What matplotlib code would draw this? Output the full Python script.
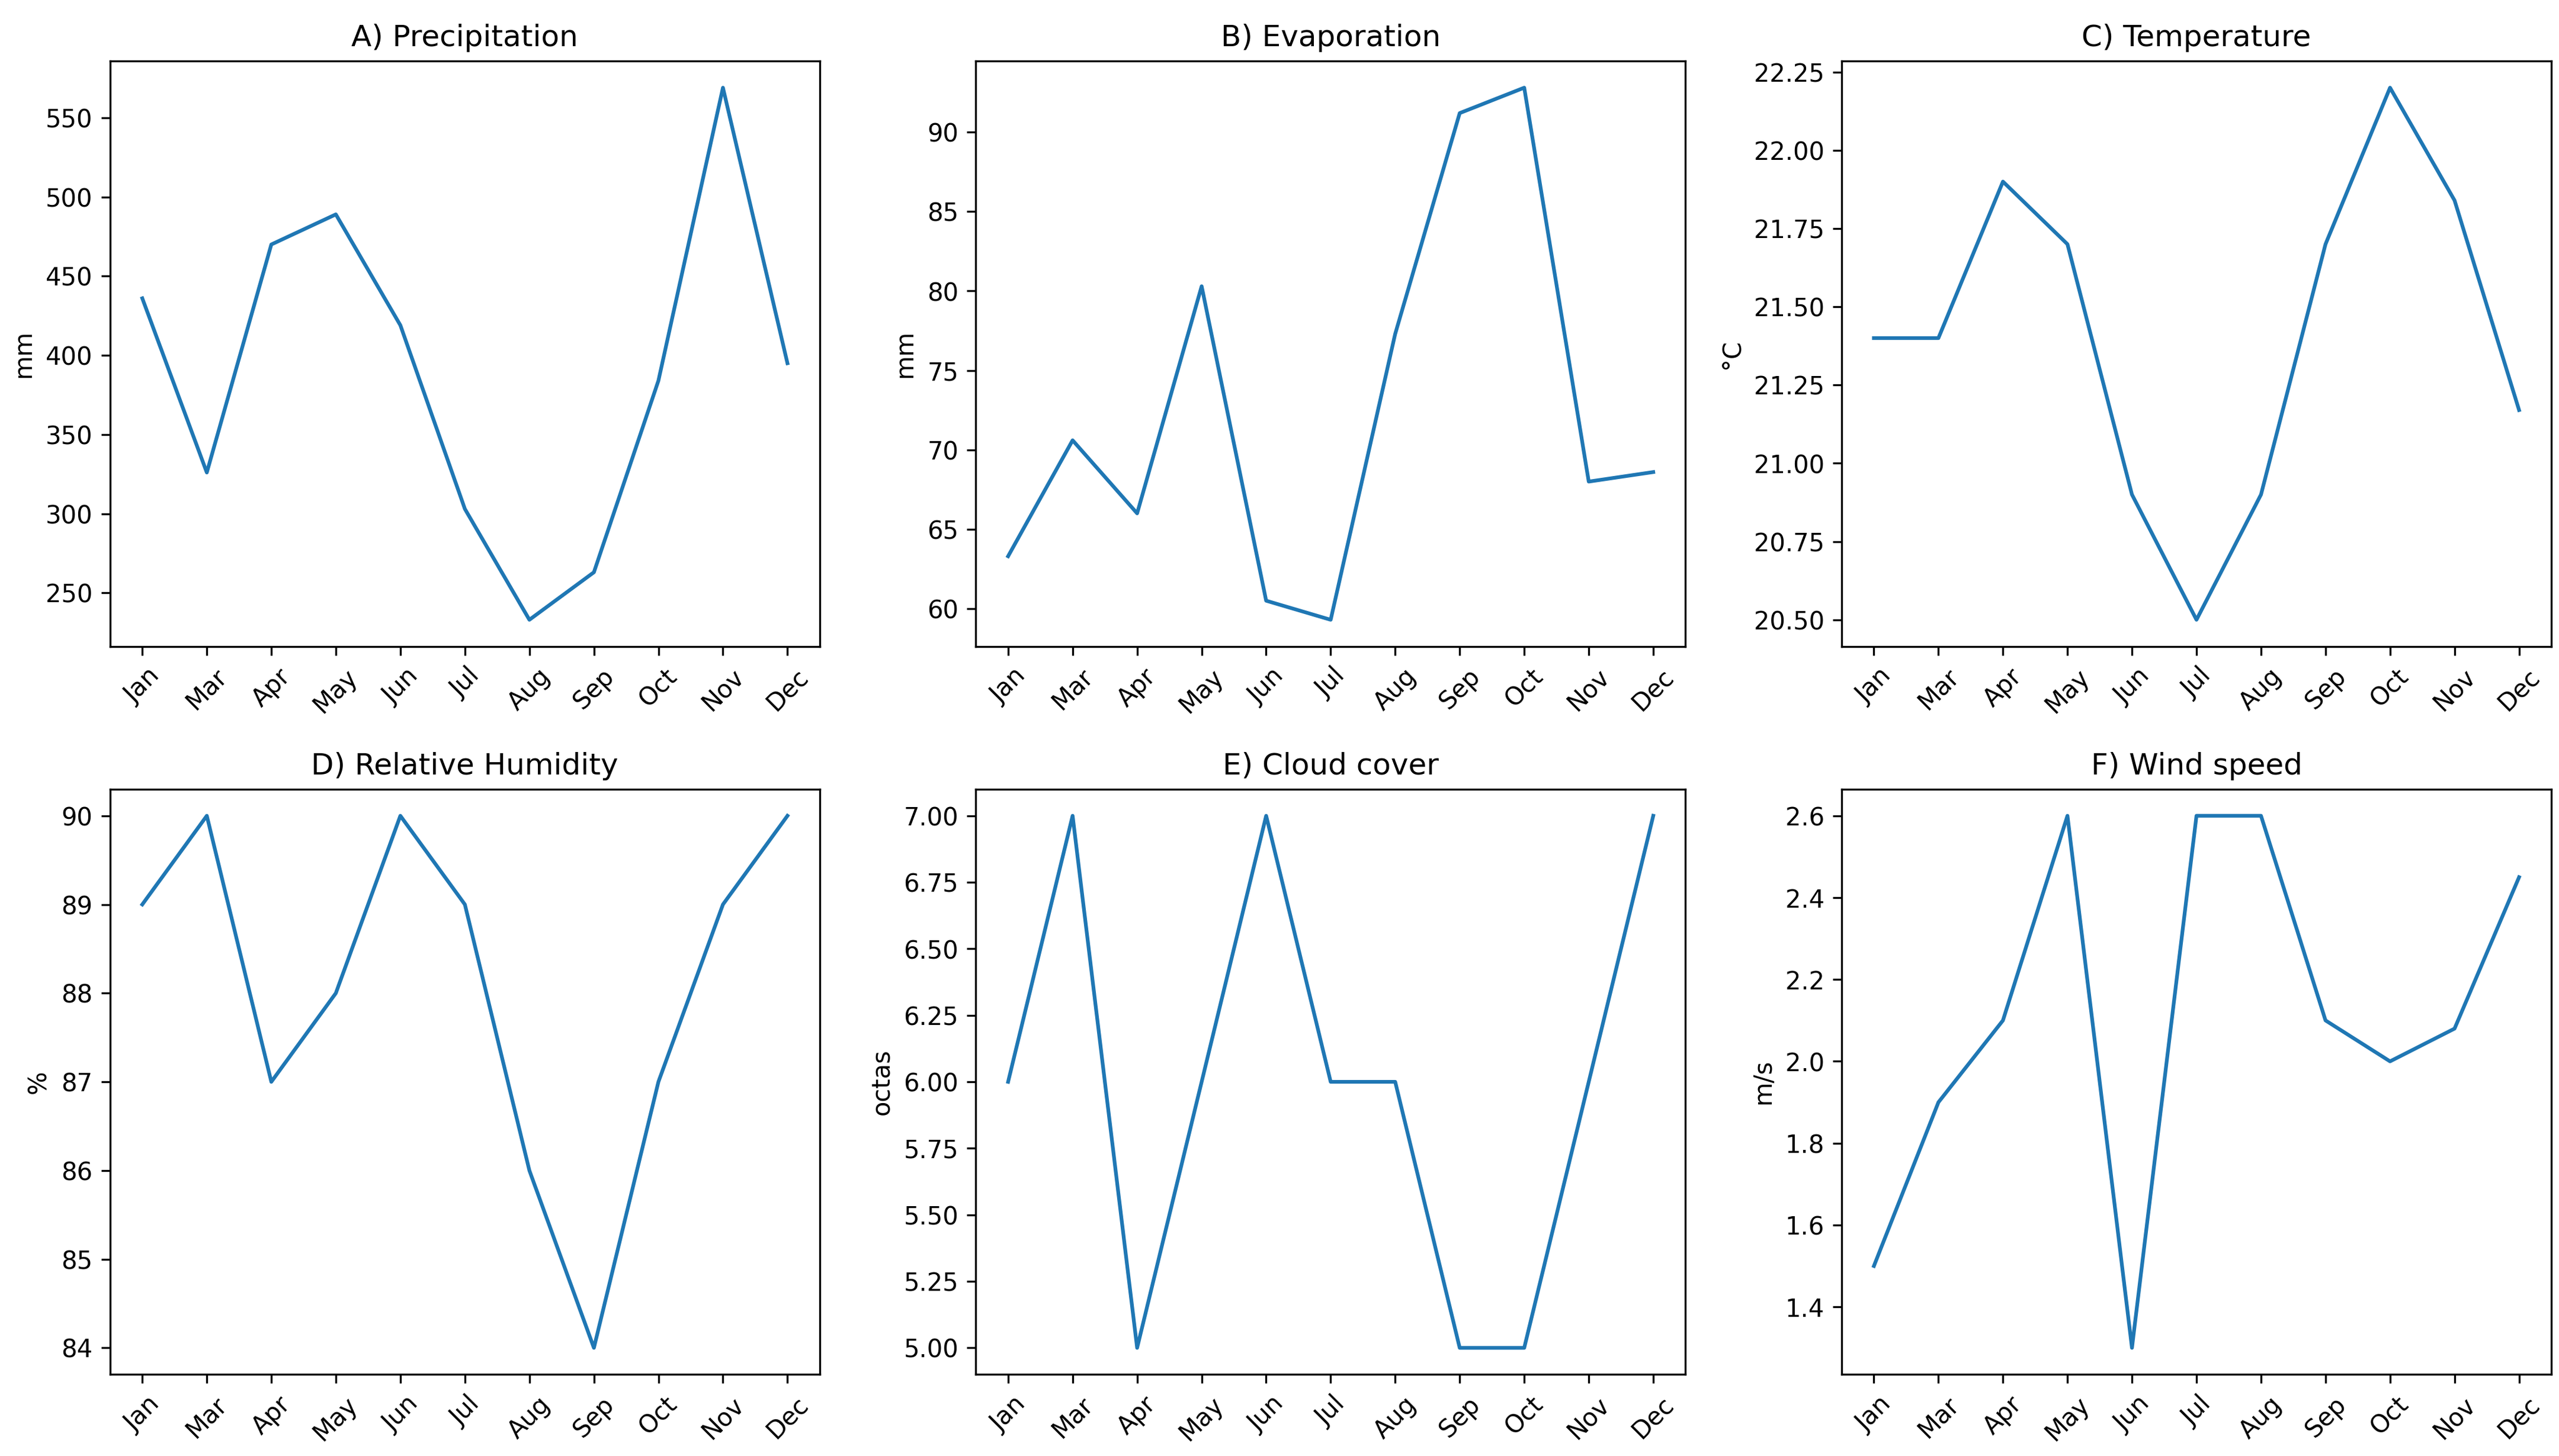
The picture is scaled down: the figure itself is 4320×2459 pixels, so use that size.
import matplotlib
matplotlib.use("Agg")
import matplotlib.pyplot as plt

months = ['Jan', 'Mar', 'Apr', 'May', 'Jun', 'Jul', 'Aug', 'Sep', 'Oct', 'Nov', 'Dec']

precipitation = [436, 326, 470, 489, 419, 303, 233, 263, 384, 569, 395]
evaporation = [63.3, 70.6, 66.0, 80.3, 60.5, 59.3, 77.3, 91.2, 92.8, 68.0, 68.6]
temperature = [21.40, 21.40, 21.90, 21.70, 20.90, 20.50, 20.90, 21.70, 22.20, 21.84, 21.17]
humidity = [89, 90, 87, 88, 90, 89, 86, 84, 87, 89, 90]
cloud_cover = [6, 7, 5, 6, 7, 6, 6, 5, 5, 6, 7]
wind_speed = [1.5, 1.9, 2.1, 2.6, 1.3, 2.6, 2.6, 2.1, 2.0, 2.08, 2.45]

titles = ['A) Precipitation', 'B) Evaporation', 'C) Temperature',
          'D) Relative Humidity', 'E) Cloud cover', 'F) Wind speed']
units = ['mm', 'mm', '°C', '%', 'octas', 'm/s']
series = [precipitation, evaporation, temperature, humidity, cloud_cover, wind_speed]

fig, axes = plt.subplots(2, 3, figsize=(14.4, 8.197), dpi=300)

for ax, title, unit, values in zip(axes.flat, titles, units, series):
    ax.plot(months, values)
    ax.set_title(title)
    ax.set_ylabel(unit)
    ax.tick_params(axis='x', rotation=45)

# C and E use two-decimal tick labels
axes[0, 2].yaxis.set_major_formatter(plt.FormatStrFormatter('%.2f'))
axes[1, 1].yaxis.set_major_formatter(plt.FormatStrFormatter('%.2f'))

plt.subplots_adjust(left=0.043, right=0.997, top=0.958, bottom=0.056,
                    wspace=0.22, hspace=0.244)
plt.savefig('out.png', dpi=300)
